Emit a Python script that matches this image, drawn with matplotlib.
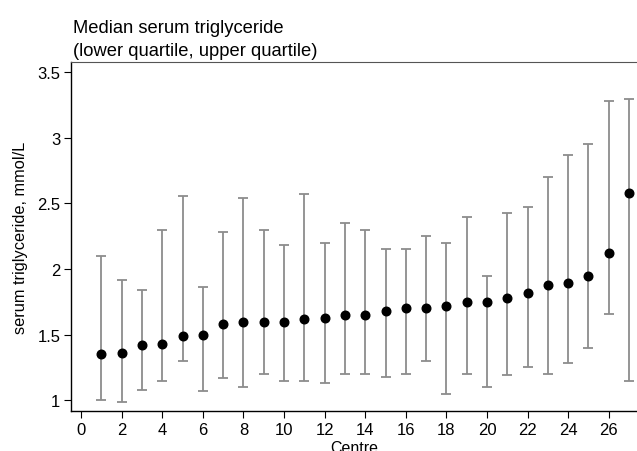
import numpy as np
import matplotlib
matplotlib.use('Agg')
import matplotlib.pyplot as plt

plt.rcParams['font.family'] = ['Liberation Sans', 'DejaVu Sans']
plt.rcParams['font.size'] = 12

# median and quartiles of serum triglyceride (mmol/L) by centre
centre = np.arange(1, 28)
median = [1.35, 1.36, 1.42, 1.43, 1.49, 1.50, 1.58, 1.60, 1.60, 1.60,
          1.62, 1.63, 1.65, 1.65, 1.68, 1.70, 1.70, 1.72, 1.75, 1.75,
          1.78, 1.82, 1.88, 1.89, 1.95, 2.12, 2.58]
lower_q = [1.00, 0.99, 1.08, 1.15, 1.30, 1.07, 1.17, 1.10, 1.20, 1.15,
           1.15, 1.13, 1.20, 1.20, 1.18, 1.20, 1.30, 1.05, 1.20, 1.10,
           1.19, 1.25, 1.20, 1.28, 1.40, 1.66, 1.15]
upper_q = [2.10, 1.92, 1.84, 2.30, 2.56, 1.86, 2.28, 2.54, 2.30, 2.18,
           2.57, 2.20, 2.35, 2.30, 2.15, 2.15, 2.25, 2.20, 2.40, 1.95,
           2.43, 2.47, 2.70, 2.87, 2.95, 3.28, 3.30]

median = np.array(median)
yerr = [median - np.array(lower_q), np.array(upper_q) - median]

fig = plt.figure(figsize=(6.37, 4.52), dpi=100)
ax = fig.add_axes([0.111, 0.088, 0.889, 0.773])

ax.errorbar(centre, median, yerr=yerr, fmt='none', ecolor='#8c8c8c',
            elinewidth=1.3, capsize=3.3, capthick=1.3, zorder=1)
ax.plot(centre, median, 'o', color='black', markersize=6.2, zorder=2)

ax.set_xlim(-0.51, 27.39)
ax.set_ylim(0.916, 3.58)
ax.set_xticks(range(0, 27, 2))
ax.set_yticks([1, 1.5, 2, 2.5, 3, 3.5])
ax.set_yticklabels(['1', '1.5', '2', '2.5', '3', '3.5'])
ax.tick_params(direction='out', length=5, width=0.8, colors='black',
               labelsize=12, pad=2.5)

ax.spines['right'].set_visible(False)
ax.spines['top'].set_color('#555555')
ax.spines['left'].set_linewidth(1.0)
ax.spines['bottom'].set_linewidth(1.0)

ax.set_xlabel('Centre', fontsize=11.5)
ax.xaxis.set_label_coords(0.5, -0.083)
ax.set_ylabel('serum triglyceride, mmol/L', fontsize=11.8)
ax.yaxis.set_label_coords(-0.076, 0.5)

fig.text(0.1146, 0.9277, 'Median serum triglyceride',
         ha='left', va='baseline', fontsize=13.2)
fig.text(0.1146, 0.876, '(lower quartile, upper quartile)',
         ha='left', va='baseline', fontsize=13.2)

fig.savefig('out.png', dpi=100)
